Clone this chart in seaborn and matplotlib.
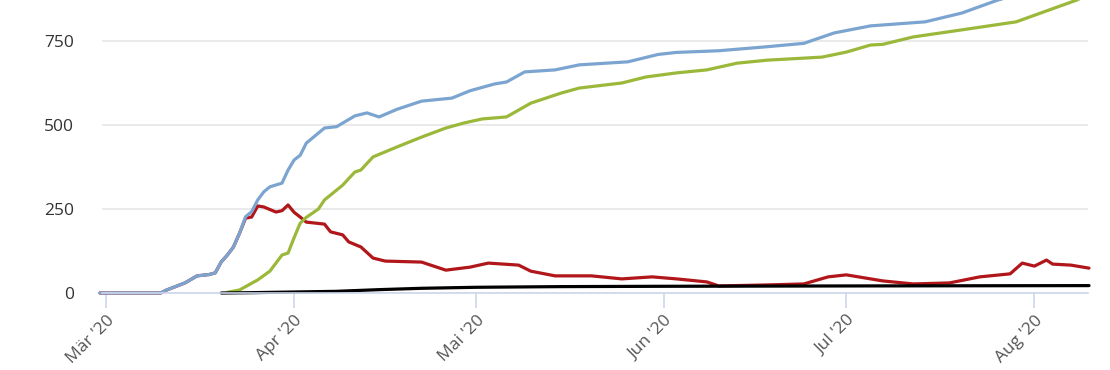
import matplotlib
matplotlib.use("Agg")

import matplotlib.pyplot as plt
import pandas as pd
import seaborn as sns

# values
cases_dates = [
    "2020-02-29", "2020-03-10", "2020-03-11", "2020-03-14", "2020-03-16", "2020-03-18",
    "2020-03-19", "2020-03-20", "2020-03-21", "2020-03-22", "2020-03-23", "2020-03-24",
    "2020-03-25", "2020-03-26", "2020-03-27", "2020-03-28", "2020-03-30", "2020-03-31",
    "2020-04-01", "2020-04-02", "2020-04-03", "2020-04-06", "2020-04-08", "2020-04-11",
    "2020-04-13", "2020-04-15", "2020-04-18", "2020-04-22", "2020-04-27", "2020-04-30",
    "2020-05-04", "2020-05-06", "2020-05-09", "2020-05-14", "2020-05-18", "2020-05-26",
    "2020-05-31", "2020-06-03", "2020-06-10", "2020-06-18", "2020-06-24", "2020-06-29",
    "2020-07-05", "2020-07-14", "2020-07-20", "2020-07-26", "2020-08-01", "2020-08-10",
]
cases = [
    0, 0, 9, 30, 51, 55,
    60, 93, 113, 137, 178, 227,
    242, 277, 301, 316, 327, 366,
    396, 410, 446, 491, 495, 527,
    536, 524, 547, 571, 580, 602,
    622, 628, 658, 664, 679, 688,
    710, 716, 721, 733, 743, 774,
    795, 807, 833, 872, 900, 930,
]

recovered_dates = [
    "2020-03-21", "2020-03-23", "2020-03-26", "2020-03-28", "2020-03-30", "2020-03-31",
    "2020-04-01", "2020-04-02", "2020-04-03", "2020-04-05", "2020-04-06", "2020-04-09",
    "2020-04-11", "2020-04-12", "2020-04-14", "2020-04-18", "2020-04-22", "2020-04-26",
    "2020-04-29", "2020-05-02", "2020-05-06", "2020-05-10", "2020-05-15", "2020-05-18",
    "2020-05-25", "2020-05-29", "2020-06-03", "2020-06-08", "2020-06-13", "2020-06-18",
    "2020-06-27", "2020-07-01", "2020-07-05", "2020-07-07", "2020-07-12", "2020-07-20",
    "2020-07-29", "2020-08-02", "2020-08-08", "2020-08-10",
]
recovered = [
    2, 9, 39, 65, 113, 119,
    165, 208, 225, 250, 277, 321,
    360, 366, 405, 435, 464, 491,
    506, 518, 524, 565, 595, 610,
    625, 643, 655, 664, 684, 693,
    702, 717, 738, 740, 762, 783,
    807, 833, 872, 890,
]

active_dates = [
    "2020-02-29", "2020-03-10", "2020-03-11", "2020-03-14", "2020-03-16", "2020-03-18",
    "2020-03-19", "2020-03-20", "2020-03-21", "2020-03-22", "2020-03-23", "2020-03-24",
    "2020-03-25", "2020-03-26", "2020-03-27", "2020-03-29", "2020-03-30", "2020-03-31",
    "2020-04-01", "2020-04-02", "2020-04-03", "2020-04-06", "2020-04-07", "2020-04-09",
    "2020-04-10", "2020-04-12", "2020-04-14", "2020-04-16", "2020-04-22", "2020-04-26",
    "2020-04-30", "2020-05-03", "2020-05-08", "2020-05-10", "2020-05-14", "2020-05-20",
    "2020-05-25", "2020-05-30", "2020-06-03", "2020-06-08", "2020-06-10", "2020-06-18",
    "2020-06-24", "2020-06-28", "2020-07-01", "2020-07-05", "2020-07-07", "2020-07-12",
    "2020-07-18", "2020-07-23", "2020-07-28", "2020-07-30", "2020-08-01", "2020-08-03",
    "2020-08-04", "2020-08-07", "2020-08-10",
]
active = [
    0, 0, 9, 30, 51, 55,
    60, 93, 113, 137, 178, 223,
    226, 259, 256, 241, 245, 262,
    240, 226, 211, 205, 182, 173,
    152, 137, 104, 95, 92, 68,
    77, 89, 83, 65, 51, 51,
    42, 48, 42, 33, 21, 24,
    27, 48, 54, 42, 36, 27,
    30, 48, 57, 89, 80, 98,
    86, 83, 74,
]

deaths_dates = [
    "2020-03-20", "2020-03-25", "2020-04-01", "2020-04-08", "2020-04-15", "2020-04-22",
    "2020-05-01", "2020-05-15", "2020-06-01", "2020-07-01", "2020-08-10",
]
deaths = [0, 1, 3, 5, 10, 14, 17, 19, 20, 21, 22]

# drawing order: active first so the cases line sits on top where they overlap
series_names = ["Aktiv", "Fälle", "Genesen", "Todesfälle"]
series_colors = {"Fälle": "#7ba5d0", "Genesen": "#9bb83a", "Aktiv": "#b0161a", "Todesfälle": "#000000"}

tick_dates = ["2020-03-01", "2020-04-01", "2020-05-01", "2020-06-01", "2020-07-01", "2020-08-01"]
tick_labels = ["Mär '20", "Apr '20", "Mai '20", "Jun '20", "Jul '20", "Aug '20"]
y_ticks = [0, 250, 500, 750]

frames = []
for name, d, v in zip(["Fälle", "Genesen", "Aktiv", "Todesfälle"],
                      [cases_dates, recovered_dates, active_dates, deaths_dates],
                      [cases, recovered, active, deaths]):
    frames.append(pd.DataFrame({"date": pd.to_datetime(d), "value": v, "series": name}))
df = pd.concat(frames, ignore_index=True)

sns.set_theme(style="white")
plt.rcParams["font.family"] = ["Open Sans", "DejaVu Sans"]

fig = plt.figure(figsize=(11.1, 3.7), dpi=100)
ax = fig.add_axes([102 / 1110, 77 / 370, 986 / 1110, 293 / 370])

sns.lineplot(data=df, x="date", y="value", hue="series", hue_order=series_names,
             palette=series_colors, linewidth=2.3, legend=False, ax=ax,
             estimator=None, sort=True)
for line in ax.lines:
    line.set_clip_on(False)

ax.set_xlim(pd.Timestamp("2020-02-29 08:00"), pd.Timestamp("2020-08-09 20:00"))
ax.set_ylim(0, 872)

ax.set_yticks(y_ticks)
ax.set_yticklabels([str(t) for t in y_ticks])
ax.set_xticks(pd.to_datetime(tick_dates))
ax.set_xticklabels(tick_labels, rotation=45, ha="right", rotation_mode="anchor")

ax.grid(axis="y", color="#e6e6e6", linewidth=1.2)
ax.grid(axis="x", visible=False)
ax.set_axisbelow(True)
for side in ["top", "right", "left"]:
    ax.spines[side].set_visible(False)
ax.spines["bottom"].set_color("#ccd6eb")
ax.spines["bottom"].set_linewidth(1.2)

ax.tick_params(axis="y", length=0, pad=20, labelsize=12.5, labelcolor="#333333")
ax.tick_params(axis="x", length=11, width=1.2, color="#ccd6eb", pad=3,
               labelsize=12.5, labelcolor="#555555", bottom=True)
ax.set_xlabel("")
ax.set_ylabel("")

plt.savefig("out.png", dpi=100)
plt.close()
